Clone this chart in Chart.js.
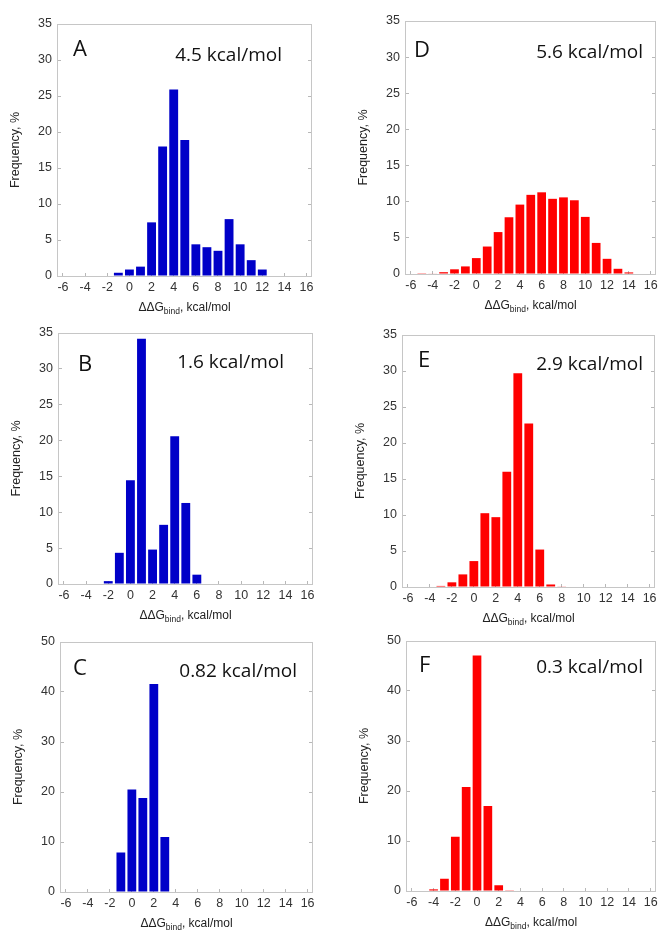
<!DOCTYPE html>
<html>
<head>
<meta charset="utf-8">
<script src="https://cdn.jsdelivr.net/npm/chart.js@4/dist/chart.umd.min.js"></script>
<style>
  html, body { margin: 0; padding: 0; background: #fff; }
  #wrap { position: relative; width: 660px; height: 932px; overflow: hidden; }
  #wrap canvas { position: absolute; }
</style>
</head>
<body>
<div id="wrap"></div>
<script>
// Histogramas de ddG_bind: columna izquierda en azul (A-C), derecha en rojo (D-F)

const xTicks = [-6, -4, -2, 0, 2, 4, 6, 8, 10, 12, 14, 16];
const yTicks35 = [0, 5, 10, 15, 20, 25, 30, 35];
const yTicks50 = [0, 10, 20, 30, 40, 50];

const binsA = [-1, 0, 1, 2, 3, 4, 5, 6, 7, 8, 9, 10, 11, 12];
const freqA = [0.45, 0.9, 1.3, 7.45, 18, 25.9, 18.9, 4.4, 4.0, 3.5, 7.9, 4.4, 2.2, 0.9];

const binsB = [-2, -1, 0, 1, 2, 3, 4, 5, 6];
const freqB = [0.4, 4.35, 14.45, 34.2, 4.8, 8.25, 20.6, 11.3, 1.3];

const binsC = [-1, 0, 1, 2, 3];
const freqC = [7.9, 20.5, 18.8, 41.6, 11];

const binsD = [-5, -4, -3, -2, -1, 0, 1, 2, 3, 4, 5, 6, 7, 8, 9, 10, 11, 12, 13, 14, 15];
const freqD = [0.03, 0.08, 0.25, 0.65, 1.05, 2.2, 3.8, 5.8, 7.85, 9.6, 10.95, 11.3, 10.4, 10.6, 10.2, 7.9, 4.3, 2.1, 0.72, 0.22, 0.07];

const binsE = [-3, -2, -1, 0, 1, 2, 3, 4, 5, 6, 7, 8];
const freqE = [0.15, 0.65, 1.75, 3.6, 10.25, 9.7, 16, 29.7, 22.7, 5.2, 0.35, 0.05];

const binsF = [-4, -3, -2, -1, 0, 1, 2, 3];
const freqF = [0.33, 2.45, 10.85, 20.8, 47.1, 17, 1.15, 0.05];

const letras = ['A', 'B', 'C', 'D', 'E', 'F'];
const energias = ['4.5 kcal/mol', '1.6 kcal/mol', '0.82 kcal/mol', '5.6 kcal/mol', '2.9 kcal/mol', '0.3 kcal/mol'];

const azul = '#0000c8';
const rojo = '#ff0000';

// Marco de cada panel (izq, arriba, der, abajo) y desplazamientos de los rotulos
const paneles = [
    { bins: binsA, freq: freqA, yTicks: yTicks35, color: azul, marco: [58, 24, 311, 276], letra: [15, 32], texto: [29, 37] },
    { bins: binsB, freq: freqB, yTicks: yTicks35, color: azul, marco: [59, 333, 312, 584], letra: [19, 38], texto: [28, 35] },
    { bins: binsC, freq: freqC, yTicks: yTicks50, color: azul, marco: [61, 642, 312, 892], letra: [12, 33], texto: [15, 35] },
    { bins: binsD, freq: freqD, yTicks: yTicks35, color: rojo, marco: [406, 21, 655, 274], letra: [8, 36], texto: [12, 37] },
    { bins: binsE, freq: freqE, yTicks: yTicks35, color: rojo, marco: [403, 335, 654, 587], letra: [15, 32], texto: [11, 35] },
    { bins: binsF, freq: freqF, yTicks: yTicks50, color: rojo, marco: [407, 641, 655, 891], letra: [12, 31], texto: [12, 32] }
];

Chart.defaults.font.family = "'Liberation Sans', Arial, sans-serif";
Chart.defaults.font.size = 12.5;

// Marco gris, letra del panel, energia y titulo del eje x (con subindice)
const decoracion = {
    id: 'decoracion',
    beforeDatasetsDraw(chart) {
        const { ctx, chartArea: a } = chart;
        ctx.save();
        ctx.strokeStyle = '#c6c6c6';
        ctx.lineWidth = 1;
        ctx.strokeRect(Math.round(a.left) - 0.5, Math.round(a.top) + 0.5,
            Math.round(a.right - a.left) + 1, Math.round(a.bottom - a.top));
        ctx.restore();
    },
    afterDraw(chart, args, opts) {
        const { ctx, chartArea: a } = chart;
        ctx.save();
        ctx.fillStyle = '#111';
        ctx.textBaseline = 'alphabetic';

        ctx.font = '22px "Open Sans"';
        ctx.textAlign = 'left';
        ctx.fillText(opts.letra, a.left + opts.dLetra[0], a.top + opts.dLetra[1]);

        ctx.font = '19px "Open Sans"';
        ctx.textAlign = 'right';
        ctx.fillText(opts.texto, a.right - opts.dTexto[0], a.top + opts.dTexto[1]);

        // titulo del eje x: ΔΔG + "bind" en subindice + ", kcal/mol"
        const grande = "12px 'Liberation Sans', Arial";
        const chico = "8.5px 'Liberation Sans', Arial";
        ctx.fillStyle = '#222';
        ctx.textAlign = 'left';
        ctx.font = grande;
        const w1 = ctx.measureText('ΔΔG').width;
        const w3 = ctx.measureText(', kcal/mol').width;
        ctx.font = chico;
        const w2 = ctx.measureText('bind').width;
        let x = (a.left + a.right) / 2 - (w1 + w2 + w3) / 2;
        const y = a.bottom + 35;
        ctx.font = grande;
        ctx.fillText('ΔΔG', x, y);
        x += w1;
        ctx.font = chico;
        ctx.fillText('bind', x, y + 3);
        x += w2;
        ctx.font = grande;
        ctx.fillText(', kcal/mol', x, y);
        ctx.restore();
    }
};

function crearPanel(p, i) {
    const [L, T, R, B] = p.marco;
    const canvas = document.createElement('canvas');
    const w = R - L + 75;
    const h = B - T + 64;
    canvas.width = w;
    canvas.height = h;
    canvas.style.left = (L - 60) + 'px';
    canvas.style.top = (T - 20) + 'px';
    canvas.style.width = w + 'px';
    canvas.style.height = h + 'px';
    document.getElementById('wrap').appendChild(canvas);

    const yMax = p.yTicks[p.yTicks.length - 1];
    const marcasY = s => { s.ticks = p.yTicks.map(v => ({ value: v })); };
    const rejilla = { display: true, drawOnChartArea: false, drawTicks: true, tickLength: -3, color: '#b8b8b8' };

    new Chart(canvas, {
        type: 'bar',
        data: {
            datasets: [{
                data: p.bins.map((b, k) => ({ x: b, y: p.freq[k] })),
                backgroundColor: p.color,
                borderWidth: 0,
                barPercentage: 0.8,
                categoryPercentage: 1,
                xAxisID: 'x',
                yAxisID: 'y'
            }]
        },
        options: {
            responsive: false,
            animation: false,
            layout: { padding: { left: 10, top: 20, right: 15, bottom: 0 } },
            plugins: {
                legend: { display: false },
                tooltip: { enabled: false },
                decoracion: { letra: letras[i], texto: energias[i], dLetra: p.letra, dTexto: p.texto }
            },
            scales: {
                x: {
                    type: 'linear',
                    min: -6.45,
                    max: 16.4,
                    offset: false,
                    afterBuildTicks: s => { s.ticks = xTicks.map(v => ({ value: v })); },
                    afterFit: s => { s.height = 44; },
                    border: { display: false },
                    grid: Object.assign({ offset: false }, rejilla),
                    ticks: { padding: 7, color: '#333', maxRotation: 0, autoSkip: false }
                },
                y: {
                    min: 0,
                    max: yMax,
                    afterBuildTicks: marcasY,
                    afterFit: s => { s.width = 50; },
                    border: { display: false },
                    grid: rejilla,
                    ticks: { padding: 9, color: '#333' },
                    title: { display: true, text: 'Frequency, %', color: '#222', padding: { top: 0, bottom: 0 } }
                },
                y2: {
                    position: 'right',
                    min: 0,
                    max: yMax,
                    afterBuildTicks: marcasY,
                    afterFit: s => { s.width = 0; },
                    border: { display: false },
                    grid: rejilla,
                    ticks: { display: false }
                }
            }
        },
        plugins: [decoracion]
    });
}

Promise.all([
    document.fonts.load('19px "Open Sans"'),
    document.fonts.load("12px 'Liberation Sans'")
]).catch(() => {}).then(() => {
    paneles.forEach(crearPanel);
});
</script>
</body>
</html>
